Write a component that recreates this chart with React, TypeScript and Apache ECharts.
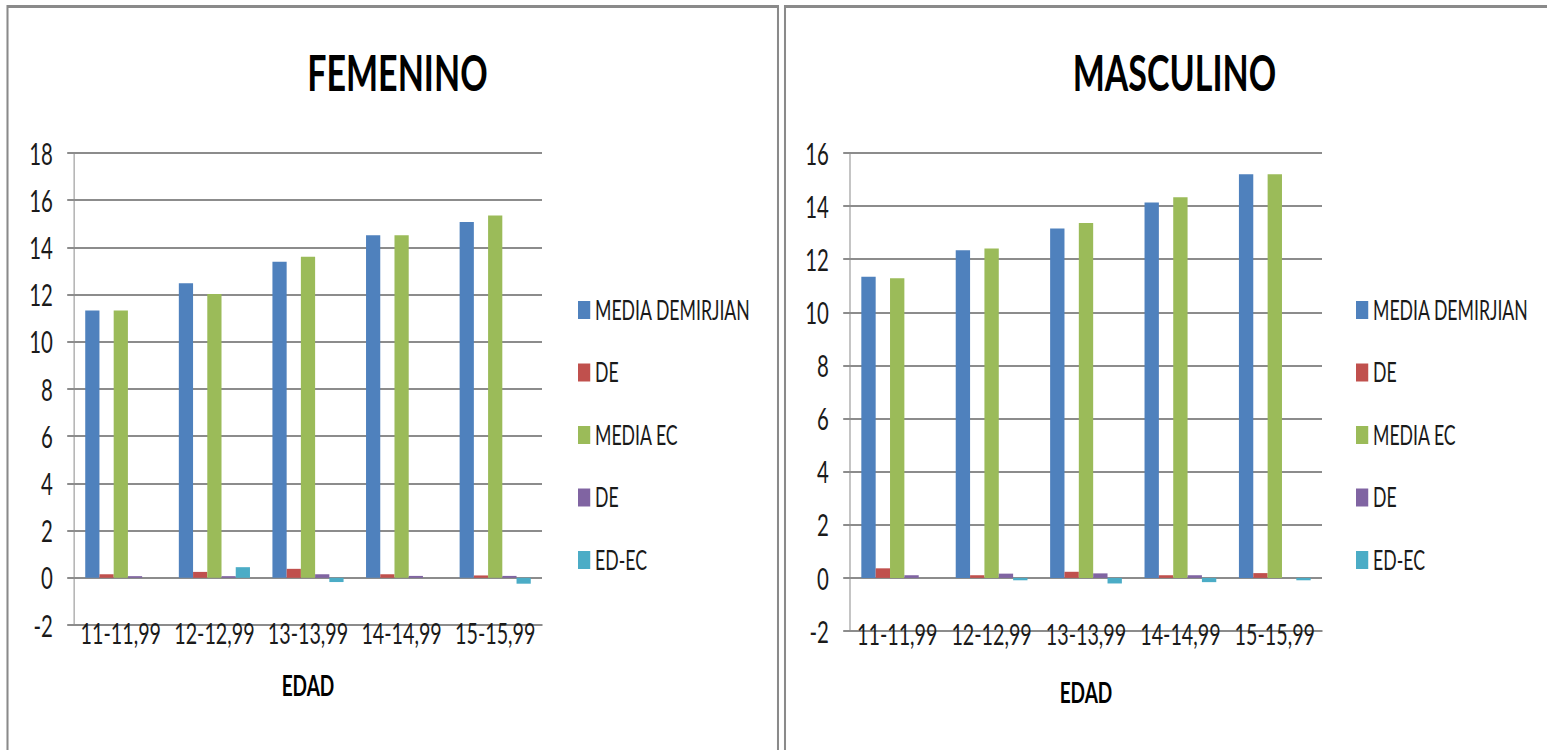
import React, { useEffect, useRef } from "react";
import * as echarts from "echarts";

// Age groups on the category axis
const categories = ["11-11,99", "12-12,99", "13-13,99", "14-14,99", "15-15,99"];

// Legend entries (two series share the label "DE"; the suffix keeps their keys apart)
const seriesKeys = ["MEDIA DEMIRJIAN", "DE (DEMIRJIAN)", "MEDIA EC", "DE (EC)", "ED-EC"];
const seriesColors = ["#4F81BD", "#C0504D", "#9BBB59", "#8064A2", "#4BACC6"];

// FEMENINO
const femMediaDemirjian = [11.33, 12.48, 13.39, 14.51, 15.08];
const femDeDemirjian = [0.15, 0.25, 0.38, 0.15, 0.1];
const femMediaEc = [11.33, 12.03, 13.6, 14.51, 15.35];
const femDeEc = [0.07, 0.07, 0.15, 0.08, 0.08];
const femEdEc = [0, 0.45, -0.18, 0, -0.25];

// MASCULINO
const masMediaDemirjian = [11.34, 12.34, 13.16, 14.14, 15.2];
const masDeDemirjian = [0.36, 0.1, 0.23, 0.1, 0.18];
const masMediaEc = [11.28, 12.4, 13.36, 14.33, 15.2];
const masDeEc = [0.1, 0.16, 0.17, 0.1, 0];
const masEdEc = [0, -0.09, -0.21, -0.16, -0.09];

// Value axis ranges
const femYMax = 18;
const masYMax = 16;
const yMin = -2;
const yStep = 2;

// The chart is laid out wide and then condensed horizontally as a whole
const VIEW_W = 1547;
const VIEW_H = 750;
const SCALE_X = 0.68;
const INNER_W = Math.round(VIEW_W / SCALE_X);
const sx = (x: number) => x / SCALE_X;

const FONT = "Lato, 'Open Sans', sans-serif";
const AXIS_GREY = "#8c8c8c";
const TEXT = "#1a1a1a";

const panels = [
  {
    title: "FEMENINO",
    values: [femMediaDemirjian, femDeDemirjian, femMediaEc, femDeEc, femEdEc],
    yMax: femYMax,
    titleX: 394,
    gridL: 74,
    gridR: 542,
    gridB: 625,
    legendX: 578,
    labelMargin: -7,
    nameGap: 46,
  },
  {
    title: "MASCULINO",
    values: [masMediaDemirjian, masDeDemirjian, masMediaEc, masDeEc, masEdEc],
    yMax: masYMax,
    titleX: 1171,
    gridL: 850,
    gridR: 1322,
    gridB: 631,
    legendX: 1356,
    labelMargin: -12,
    nameGap: 47,
  },
];

function buildOption(): echarts.EChartsOption {
  const gridTop = 153;
  return {
    animation: false,
    backgroundColor: "#ffffff",
    textStyle: { fontFamily: FONT },
    title: panels.map((p) => ({
      text: p.title,
      left: sx(p.titleX),
      textAlign: "center",
      top: 42,
      textStyle: { fontFamily: FONT, fontSize: 50, fontWeight: "bold", color: "#000" },
    })),
    legend: panels.map((p) => ({
      data: seriesKeys,
      orient: "vertical",
      left: sx(p.legendX) - 5,
      top: 292,
      itemWidth: 18,
      itemHeight: 18,
      itemGap: 36.5,
      icon: "rect",
      selectedMode: false,
      formatter: (name: string) => name.replace(/ \(.*\)$/, ""),
      textStyle: { fontFamily: FONT, fontSize: 26, lineHeight: 26, color: TEXT, padding: [0, 0, 0, 2] },
    })),
    grid: panels.map((p) => ({
      left: sx(p.gridL),
      width: sx(p.gridR) - sx(p.gridL),
      top: gridTop,
      height: p.gridB - gridTop,
      containLabel: false,
    })),
    xAxis: panels.map((p, i) => ({
      type: "category",
      gridIndex: i,
      data: categories,
      axisLine: { onZero: false, lineStyle: { color: AXIS_GREY, width: 2 } },
      axisTick: { show: false },
      axisLabel: { interval: 0, fontFamily: FONT, fontSize: 29, color: TEXT, margin: p.labelMargin },
      name: "EDAD",
      nameLocation: "middle",
      nameGap: p.nameGap,
      nameTextStyle: { fontFamily: FONT, fontSize: 28, fontWeight: "bold", color: "#000" },
    })),
    yAxis: panels.map((p, i) => ({
      type: "value",
      gridIndex: i,
      min: yMin,
      max: p.yMax,
      interval: yStep,
      axisLine: { show: true, lineStyle: { color: AXIS_GREY, width: 1.5 } },
      axisTick: { show: true, length: 10, lineStyle: { color: AXIS_GREY, width: 2 } },
      splitLine: { lineStyle: { color: AXIS_GREY, width: 2 } },
      axisLabel: { fontFamily: FONT, fontSize: 30, color: TEXT, margin: 31 },
    })),
    series: panels.flatMap((p, i) =>
      seriesKeys.map((key, k) => ({
        type: "bar" as const,
        name: key,
        xAxisIndex: i,
        yAxisIndex: i,
        data: p.values[k],
        barGap: "0%",
        barCategoryGap: "24%",
        itemStyle: { color: seriesColors[k] },
      }))
    ),
    graphic: [
      {
        type: "rect",
        silent: true,
        shape: { x: sx(7.5), y: 6.5, width: sx(778) - sx(7.5), height: 800 },
        style: { fill: "none", stroke: "#8a8a8a", lineWidth: 3 },
      },
      {
        type: "rect",
        silent: true,
        shape: { x: sx(785), y: 6.5, width: sx(1600) - sx(785), height: 800 },
        style: { fill: "none", stroke: "#8a8a8a", lineWidth: 3 },
      },
    ],
  };
}

export default function App() {
  const ref = useRef<HTMLDivElement>(null);

  useEffect(() => {
    if (!ref.current) return;
    const chart = echarts.init(ref.current, undefined, { renderer: "svg" });
    chart.setOption(buildOption());
    return () => chart.dispose();
  }, []);

  return (
    <div
      style={{
        position: "fixed",
        left: 0,
        top: 0,
        width: VIEW_W,
        height: VIEW_H,
        overflow: "hidden",
        background: "#fff",
      }}
    >
      <div
        ref={ref}
        style={{
          width: INNER_W,
          height: VIEW_H,
          transform: `scaleX(${SCALE_X})`,
          transformOrigin: "0 0",
        }}
      />
    </div>
  );
}
